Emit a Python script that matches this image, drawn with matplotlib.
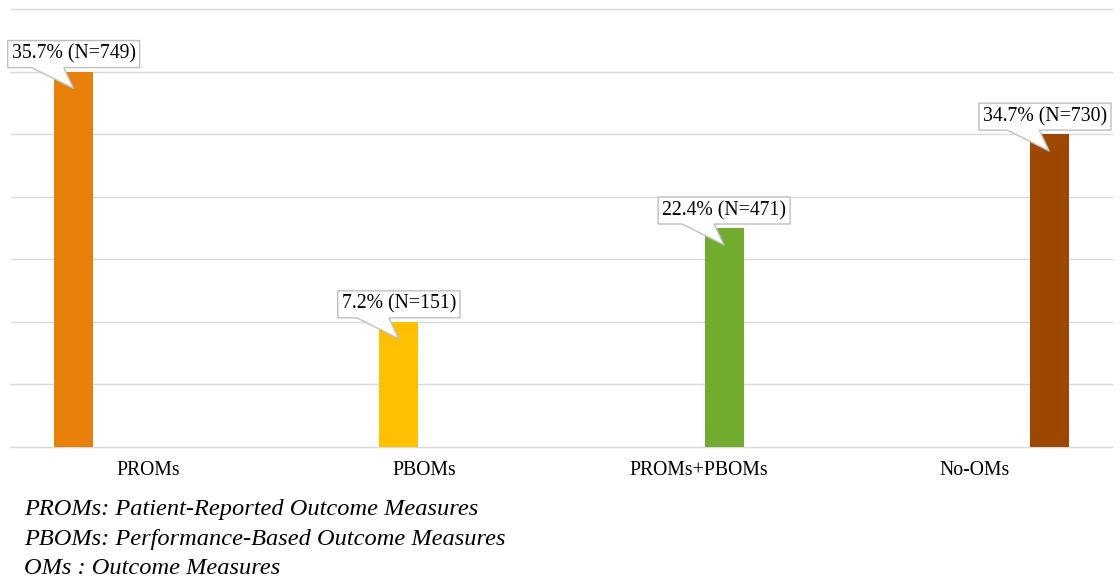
import matplotlib
matplotlib.use("Agg")
import matplotlib.pyplot as plt
from matplotlib.patches import Polygon
from matplotlib.transforms import IdentityTransform

# ---- data ----
categories = ["PROMs", "PBOMs", "PROMs+PBOMs", "No-OMs"]
bar_heights = [6.0, 2.0, 3.5, 5.0]          # heights as drawn (grid units)
percent_labels = ["35.7%", "7.2%", "22.4%", "34.7%"]
counts = [749, 151, 471, 730]
colors = ["#E9800A", "#FDC100", "#71AC2F", "#9C4800"]
footnotes = ["PROMs: Patient-Reported Outcome Measures",
             "PBOMs: Performance-Based Outcome Measures",
             "OMs : Outcome Measures"]

W, H, DPI = 1120, 577, 100
fig = plt.figure(figsize=(W / DPI, H / DPI), dpi=DPI)
ax = fig.add_axes([11 / W, 1 - 447 / H, (1112 - 11) / W, (447 - 9) / H])

n = len(categories)
slot = 0.1815
bw = 0.1416
xs = [i + (i - (n - 1) / 2) * slot for i in range(n)]
ax.bar(xs, bar_heights, width=bw, color=colors, zorder=3)

ax.set_xlim(-0.5, n - 0.5)
ax.set_ylim(0, 7)
ax.set_yticks(range(0, 8))
ax.yaxis.grid(True, color="#d9d9d9", linewidth=1.0, zorder=0)
for gl in ax.get_ygridlines():
    gl.set_clip_on(False)
ax.set_yticklabels([])
ax.tick_params(axis="y", length=0)
ax.set_xticks(range(n))
ax.set_xticklabels(categories, fontfamily="Liberation Serif", fontsize=14.2)
ax.tick_params(axis="x", length=0, pad=10)
for s in ax.spines.values():
    s.set_visible(False)

fig.canvas.draw()
renderer = fig.canvas.get_renderer()

for x, h, p, c in zip(xs, bar_heights, percent_labels, counts):
    px, py = ax.transData.transform((x, h))
    t = fig.text(px / W, (py + 4 + 13.5) / H, f"{p} (N={c})",
                 fontfamily="Liberation Serif", fontsize=14.2,
                 ha="center", va="center", zorder=6)
    bb = t.get_window_extent(renderer)
    left = bb.x0 - 4
    right = bb.x1 + 4
    if right > 1111:
        shift = right - 1111
        left -= shift
        right -= shift
        t.set_x((px - shift) / W)
    bottom = py + 4
    top = py + 31
    poly = [(left, bottom), (px - 42, bottom), (px, py - 17),
            (px - 10, bottom), (right, bottom), (right, top), (left, top)]
    fig.add_artist(Polygon(poly, closed=True, facecolor="white",
                           edgecolor="#bfbfbf", linewidth=1.0,
                           transform=IdentityTransform(), zorder=5))

for k, line in enumerate(footnotes):
    fig.text(24 / W, 1 - (510 + 29 * k) / H, line, fontfamily="Liberation Serif",
             fontstyle="italic", fontsize=17.6, ha="left", va="center")

fig.savefig("out.png", dpi=DPI)
